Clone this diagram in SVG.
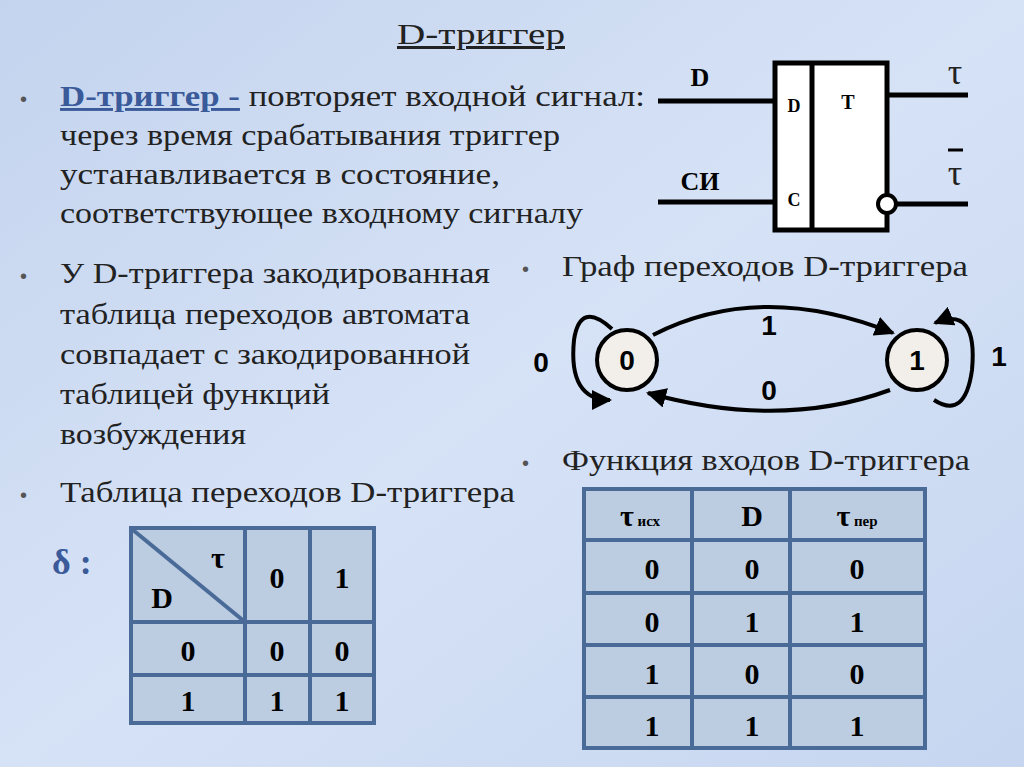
<svg xmlns="http://www.w3.org/2000/svg" width="1024" height="767" viewBox="0 0 1024 767">
<defs>
<linearGradient id="bg" x1="0" y1="0" x2="1" y2="1">
<stop offset="0" stop-color="#c4d4ee"/><stop offset="0.5" stop-color="#d6e2f6"/><stop offset="1" stop-color="#c6d6f0"/>
</linearGradient>
<marker id="ar" viewBox="0 0 10 10" refX="9" refY="5" markerWidth="5" markerHeight="5" orient="auto"><path d="M0,0 L10,5 L0,10 z" fill="#000"/></marker>
</defs>
<style>
.t{font-family:"Liberation Serif",serif;font-size:29px;fill:#222}
.b{font-family:"Liberation Serif",serif;font-weight:bold;fill:#000}
.a{font-family:"Liberation Sans",sans-serif;font-weight:bold;font-size:28px;fill:#000}
.bul{font-family:"Liberation Sans",sans-serif;font-size:20px;fill:#555}
.cell{fill:#bccde2;stroke:#4a6a98;stroke-width:4}
.w{stroke:#000;stroke-width:5;fill:none}
.e{stroke:#000;stroke-width:4;fill:none}
</style>
<rect width="1024" height="767" fill="url(#bg)"/>
<text class="t" x="397" y="44" style="font-size:30px" textLength="168" lengthAdjust="spacingAndGlyphs" text-decoration="underline">D-триггер</text>
<g id="text1">
<text class="bul" x="20" y="106">•</text>
<text class="t" x="60" y="106" textLength="585" lengthAdjust="spacingAndGlyphs"><tspan fill="#3a5a9a" font-weight="bold" text-decoration="underline">D-триггер -</tspan> повторяет входной сигнал:</text>
<text class="t" x="60" y="145" textLength="500" lengthAdjust="spacingAndGlyphs">через время срабатывания триггер</text>
<text class="t" x="60" y="184" textLength="440" lengthAdjust="spacingAndGlyphs">устанавливается в состояние,</text>
<text class="t" x="60" y="223" textLength="523" lengthAdjust="spacingAndGlyphs">соответствующее входному сигналу</text>
<text class="bul" x="20" y="283">•</text>
<text class="t" x="60" y="283" textLength="430" lengthAdjust="spacingAndGlyphs">У D-триггера закодированная</text>
<text class="t" x="60" y="324" textLength="410" lengthAdjust="spacingAndGlyphs">таблица переходов автомата</text>
<text class="t" x="60" y="364" textLength="410" lengthAdjust="spacingAndGlyphs">совпадает с закодированной</text>
<text class="t" x="60" y="404" textLength="270" lengthAdjust="spacingAndGlyphs">таблицей функций</text>
<text class="t" x="60" y="444" textLength="186" lengthAdjust="spacingAndGlyphs">возбуждения</text>
<text class="bul" x="20" y="502">•</text>
<text class="t" x="60" y="502" textLength="455" lengthAdjust="spacingAndGlyphs">Таблица переходов  D-триггера</text>
<text class="bul" x="522" y="276">•</text>
<text class="t" x="562" y="276" textLength="406" lengthAdjust="spacingAndGlyphs">Граф переходов  D-триггера</text>
<text class="bul" x="522" y="470">•</text>
<text class="t" x="562" y="470" textLength="408" lengthAdjust="spacingAndGlyphs">Функция входов D-триггера</text>
</g>
<g id="trigger">
<rect x="775" y="63" width="112" height="167" fill="#fff" stroke="#000" stroke-width="5"/>
<line x1="812" y1="63" x2="812" y2="230" stroke="#000" stroke-width="5"/>
<line class="w" x1="658" y1="101" x2="775" y2="101"/>
<line class="w" x1="658" y1="202" x2="775" y2="202"/>
<line class="w" x1="887" y1="95" x2="968" y2="95"/>
<line class="w" x1="894" y1="204" x2="968" y2="204"/>
<circle cx="887" cy="204" r="9" fill="#fff" stroke="#000" stroke-width="4"/>
<text class="b" x="700" y="86" font-size="26" text-anchor="middle">D</text>
<text class="b" x="700" y="190" font-size="26" text-anchor="middle">СИ</text>
<text class="b" x="794" y="112" font-size="18" text-anchor="middle">D</text>
<text class="b" x="794" y="206" font-size="18" text-anchor="middle">C</text>
<text class="b" x="848" y="109" font-size="20" text-anchor="middle">T</text>
<text class="t" x="955" y="84" style="font-size:36px" text-anchor="middle">τ</text>
<text class="t" x="955" y="185" style="font-size:36px" text-anchor="middle">τ</text>
<line x1="948" y1="150" x2="963" y2="150" stroke="#000" stroke-width="3"/>
</g>
<g id="graph">
<g class="edges">
<path class="e" d="M653,335 Q760,280 893,333" marker-end="url(#ar)"/>
<path class="e" d="M890,390 Q780,430 648,393" marker-end="url(#ar)"/>
<path class="e" d="M612,329 Q580,300 574,340 Q568,400 610,400" marker-end="url(#ar)"/>
<path class="e" d="M934,400 Q965,420 972,370 Q978,305 935,323" marker-end="url(#ar)"/>
</g>
<g id="s0"><circle cx="627" cy="360" r="30" fill="#f2eeea" stroke="#000" stroke-width="4"/><text class="a" x="627" y="370" text-anchor="middle">0</text></g>
<g id="s1"><circle cx="917" cy="360" r="30" fill="#f2eeea" stroke="#000" stroke-width="4"/><text class="a" x="917" y="370" text-anchor="middle">1</text></g>
<text class="a" x="769" y="335" text-anchor="middle">1</text>
<text class="a" x="769" y="400" text-anchor="middle">0</text>
<text class="a" x="541" y="372" text-anchor="middle">0</text>
<text class="a" x="999" y="366" text-anchor="middle">1</text>
</g>
<g id="table1">
<text class="b" x="52" y="574" font-size="36" style="fill:#3a5a9a">δ :</text>
<rect class="cell" x="131" y="528" width="114" height="94"/>
<rect class="cell" x="245" y="528" width="65" height="94"/>
<rect class="cell" x="310" y="528" width="64" height="94"/>
<rect class="cell" x="131" y="622" width="114" height="53"/>
<rect class="cell" x="245" y="622" width="65" height="53"/>
<rect class="cell" x="310" y="622" width="64" height="53"/>
<rect class="cell" x="131" y="675" width="114" height="48"/>
<rect class="cell" x="245" y="675" width="65" height="48"/>
<rect class="cell" x="310" y="675" width="64" height="48"/>
<line x1="133" y1="530" x2="245" y2="622" stroke="#4a6a98" stroke-width="4"/>
<g class="b" font-size="30" text-anchor="middle">
<text x="218" y="568" font-size="30">τ</text><text x="162" y="608">D</text>
<text x="277" y="588">0</text><text x="342" y="588">1</text>
<text x="188" y="661">0</text><text x="277" y="661">0</text><text x="342" y="661">0</text>
<text x="188" y="711">1</text><text x="277" y="711">1</text><text x="342" y="711">1</text>
</g>
</g>
<g id="table2">
<rect class="cell" x="584" y="489" width="108" height="51"/>
<rect class="cell" x="692" y="489" width="98" height="51"/>
<rect class="cell" x="790" y="489" width="135" height="51"/>
<rect class="cell" x="584" y="540" width="108" height="53"/><rect class="cell" x="692" y="540" width="98" height="53"/><rect class="cell" x="790" y="540" width="135" height="53"/>
<rect class="cell" x="584" y="593" width="108" height="52"/><rect class="cell" x="692" y="593" width="98" height="52"/><rect class="cell" x="790" y="593" width="135" height="52"/>
<rect class="cell" x="584" y="645" width="108" height="52"/><rect class="cell" x="692" y="645" width="98" height="52"/><rect class="cell" x="790" y="645" width="135" height="52"/>
<rect class="cell" x="584" y="697" width="108" height="51"/><rect class="cell" x="692" y="697" width="98" height="51"/><rect class="cell" x="790" y="697" width="135" height="51"/>
<g class="b" font-size="30" text-anchor="middle">
<text x="640" y="526"><tspan font-size="30">τ</tspan><tspan font-size="15"> исх</tspan></text>
<text x="752" y="526">D</text>
<text x="857" y="526"><tspan font-size="30">τ</tspan><tspan font-size="15"> пер</tspan></text>
<text x="652" y="579">0</text><text x="752" y="579">0</text><text x="857" y="579">0</text>
<text x="652" y="632">0</text><text x="752" y="632">1</text><text x="857" y="632">1</text>
<text x="652" y="684">1</text><text x="752" y="684">0</text><text x="857" y="684">0</text>
<text x="652" y="736">1</text><text x="752" y="736">1</text><text x="857" y="736">1</text>
</g>
</g>
</svg>
